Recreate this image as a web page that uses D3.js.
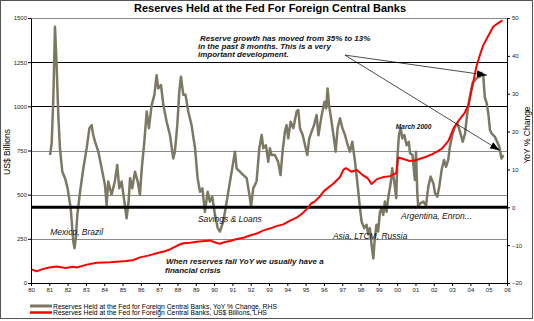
<!DOCTYPE html>
<meta charset="utf-8">
<title>Reserves Held at the Fed For Foreign Central Banks</title>
<body>
<script src="https://cdn.jsdelivr.net/npm/d3@7"></script>
<style>
html, body {
    margin: 0;
    background: #fff;
}

svg {
    display: block;
    font-family: Arial, "Liberation Sans", sans-serif;
}

.axis text {
    font-size: 6px;
    fill: #222;
}

.axis line, .axis path {
    stroke: #000;
}

.note {
    font-style: italic;
    font-size: 8.5px;
    fill: #111;
}
</style>
<script>
// Foreign central bank reserves held at the Fed, US$ billions (left axis)
var reserves = [
    [1980.04, 77], [1980.30, 66], [1980.67, 80], [1981.00, 88], [1981.40, 93],
    [1981.90, 85], [1982.30, 92], [1982.50, 88], [1983.05, 104], [1983.60, 115],
    [1984.30, 118], [1985.20, 125], [1985.60, 130], [1985.95, 145], [1986.40, 155],
    [1986.86, 168], [1987.30, 180], [1987.59, 190], [1988.05, 215], [1988.32, 225],
    [1988.70, 228], [1989.05, 234], [1989.50, 238], [1989.80, 240], [1990.10, 228],
    [1990.32, 222], [1990.60, 232], [1990.87, 238], [1991.20, 248], [1991.60, 256],
    [1992.00, 270], [1992.33, 280], [1992.70, 298], [1993.05, 308], [1993.40, 322],
    [1993.78, 332], [1994.10, 350], [1994.51, 370], [1994.80, 392], [1995.06, 418],
    [1995.30, 450], [1995.51, 462], [1995.78, 490], [1996.00, 520], [1996.24, 540],
    [1996.51, 562], [1996.88, 600], [1997.06, 640], [1997.20, 650], [1997.50, 630],
    [1997.80, 640], [1998.10, 612], [1998.40, 592], [1998.60, 560], [1998.90, 588],
    [1999.20, 598], [1999.60, 605], [1999.95, 622], [2000.05, 710], [2000.30, 703],
    [2000.70, 690], [2001.00, 695], [2001.50, 712], [2001.90, 728], [2002.20, 745],
    [2002.45, 760], [2002.80, 805], [2003.10, 880], [2003.40, 925], [2003.70, 965],
    [2003.90, 1010], [2004.10, 1110], [2004.34, 1230], [2004.52, 1290], [2004.70, 1345],
    [2004.98, 1400], [2005.25, 1450], [2005.50, 1470], [2005.75, 1487]
];

// Year-over-year % change of the same reserves (right axis)
var yoyChange = [
    [1981.04, 13.8], [1981.13, 16.9], [1981.22, 28.8], [1981.31, 47.7], [1981.40, 37.6],
    [1981.49, 24.4], [1981.58, 15.6], [1981.71, 9.4], [1981.86, 7.7], [1982.00, 5.0],
    [1982.17, -0.3], [1982.31, -9.1], [1982.38, -10.8], [1982.45, -8.0], [1982.53, -2.0],
    [1982.68, 4.1], [1982.86, 10.3], [1983.04, 15.6], [1983.19, 20.9], [1983.31, 21.7],
    [1983.40, 19.1], [1983.50, 17.3], [1983.68, 14.7], [1983.86, 10.3], [1984.04, 5.9],
    [1984.13, 0.6], [1984.22, 6.8], [1984.40, 3.3], [1984.58, 6.8], [1984.71, 11.2],
    [1984.82, 5.0], [1984.95, 6.8], [1985.10, 1.5], [1985.22, -2.9], [1985.33, 1.5],
    [1985.41, 7.7], [1985.53, 5.0], [1985.68, 9.4], [1985.83, 6.8], [1985.95, 3.3],
    [1986.05, 10.3], [1986.19, 17.3], [1986.32, 25.3], [1986.44, 20.9], [1986.59, 27.0],
    [1986.74, 29.7], [1986.86, 34.9], [1986.95, 31.4], [1987.10, 32.3], [1987.23, 27.0],
    [1987.41, 22.6], [1987.59, 19.1], [1987.77, 12.9], [1987.86, 14.7], [1987.99, 21.7],
    [1988.10, 30.5], [1988.19, 34.5], [1988.32, 29.7], [1988.44, 29.7], [1988.59, 25.3],
    [1988.77, 21.7], [1988.96, 15.6], [1989.10, 7.7], [1989.23, 4.1], [1989.36, 5.0],
    [1989.50, -1.2], [1989.65, 4.1], [1989.77, 1.5], [1989.90, 2.8], [1990.05, -2.0],
    [1990.20, -5.5], [1990.32, -6.4], [1990.50, -3.8], [1990.69, 1.5], [1990.87, 6.8],
    [1991.05, 12.0], [1991.14, 14.7], [1991.23, 10.3], [1991.41, 9.4], [1991.60, 8.5],
    [1991.78, 7.7], [1991.93, 3.3], [1992.02, 0.2], [1992.14, 5.0], [1992.32, 6.8],
    [1992.47, 15.6], [1992.60, 19.1], [1992.69, 15.6], [1992.83, 16.4], [1992.96, 12.0],
    [1993.05, 15.6], [1993.14, 13.8], [1993.32, 13.8], [1993.50, 12.0], [1993.63, 8.5],
    [1993.74, 14.7], [1993.87, 20.0], [1993.96, 21.7], [1994.05, 18.2], [1994.18, 22.6],
    [1994.33, 20.9], [1994.51, 25.3], [1994.60, 25.7], [1994.69, 20.9], [1994.84, 19.1],
    [1994.97, 16.4], [1995.09, 13.8], [1995.20, 18.2], [1995.33, 20.0], [1995.46, 21.7],
    [1995.60, 24.4], [1995.70, 19.0], [1995.88, 24.4], [1996.03, 27.9], [1996.12, 26.1],
    [1996.20, 31.4], [1996.28, 27.0], [1996.39, 23.5], [1996.52, 19.1], [1996.64, 14.7],
    [1996.75, 20.9], [1996.88, 23.5], [1997.01, 20.9], [1997.15, 19.1], [1997.30, 16.4],
    [1997.42, 14.7], [1997.55, 17.3], [1997.70, 12.0], [1997.84, 5.9], [1997.97, -0.3],
    [1998.06, -3.8], [1998.20, -5.5], [1998.33, -4.6], [1998.42, -7.2], [1998.51, -5.5],
    [1998.60, -9.9], [1998.70, -13.5], [1998.78, -8.1], [1998.87, -4.6], [1998.96, -6.4],
    [1999.06, -1.2], [1999.15, -0.3], [1999.24, -2.0], [1999.33, 1.5], [1999.42, -1.2],
    [1999.51, 2.4], [1999.66, 6.8], [1999.73, 10.3], [1999.84, 6.8], [1999.95, 2.4],
    [2000.02, 13.8], [2000.10, 19.1], [2000.19, 20.9], [2000.28, 18.2], [2000.39, 19.1],
    [2000.52, 16.4], [2000.64, 17.3], [2000.70, 14.3], [2000.84, 13.8], [2000.88, 11.6],
    [2000.97, 7.2], [2001.03, 14.7], [2001.10, 3.7], [2001.15, 0.2], [2001.25, 1.0],
    [2001.43, 1.5], [2001.58, 0.5], [2001.70, 5.4], [2001.83, 8.1], [2001.98, 6.3],
    [2002.07, 3.7], [2002.19, 2.8], [2002.30, 5.4], [2002.43, 9.9], [2002.56, 12.5],
    [2002.67, 10.7], [2002.79, 12.5], [2002.88, 16.0], [2003.03, 19.5], [2003.16, 21.3],
    [2003.28, 22.2], [2003.41, 20.4], [2003.58, 17.3], [2003.71, 19.5], [2003.79, 23.1],
    [2003.88, 26.6], [2004.01, 30.1], [2004.12, 32.8], [2004.34, 34.1], [2004.52, 34.5],
    [2004.61, 35.5], [2004.70, 34.9], [2004.79, 29.0], [2004.89, 27.5], [2004.98, 24.8],
    [2005.07, 20.4], [2005.16, 19.5], [2005.34, 18.6], [2005.46, 17.3], [2005.58, 16.0],
    [2005.70, 12.9], [2005.80, 13.8]
];

var yearTicks = d3.range(1980, 2007),
    usdTicks = [0, 250, 500, 750, 1000, 1250, 1500],
    pctTicks = [-20, -10, 0, 10, 20, 30, 40, 50];

var legendLabels = [
    "Reserves Held at the Fed for Foreign Central Banks, YoY % Change, RHS",
    "Reserves Held at the Fed for Foreign Central Banks, US$ Billions, LHS"
];

var width = 534,
    height = 321,
    plotLeft = 31,
    plotRight = 507,
    plotTop = 18,
    plotBottom = 283,
    grayColor = "#7b7963",
    redColor = "#ff0000";

var x = d3.scaleLinear().domain([1980, 2006]).range([plotLeft, plotRight]),
    yL = d3.scaleLinear().domain([0, 1500]).range([plotBottom, plotTop]),
    yR = d3.scaleLinear().domain([-20, 50]).range([plotBottom, plotTop]);

var svg = d3.select("body").append("svg")
    .attr("width", width)
    .attr("height", height);

// outer frame
svg.append("rect")
    .attr("x", 0.5).attr("y", 0.5)
    .attr("width", width - 2).attr("height", height - 3)
    .attr("fill", "#fff")
    .attr("stroke", "#555");

svg.append("text")
    .attr("x", 270)
    .attr("y", 12)
    .attr("text-anchor", "middle")
    .style("font-size", "11px")
    .style("font-weight", "bold")
    .text("Reserves Held at the Fed For Foreign Central Banks");

// horizontal gridlines from the left axis
svg.append("g").selectAll("line")
    .data(usdTicks.filter(function(d) { return d > 0; }))
    .enter().append("line")
    .attr("x1", plotLeft).attr("x2", plotRight)
    .attr("y1", function(d) { return Math.round(yL(d)) + 0.5; })
    .attr("y2", function(d) { return Math.round(yL(d)) + 0.5; })
    .attr("stroke", function(d) { return d >= 1000 && d < 1500 ? "#000" : "#8a8a8a"; })
    .attr("stroke-width", 1);

var line = d3.line()
    .x(function(d) { return x(d[0]); });

svg.append("path")
    .datum(yoyChange)
    .attr("fill", "none")
    .attr("stroke", grayColor)
    .attr("stroke-width", 2.5)
    .attr("stroke-linejoin", "round")
    .attr("d", line.y(function(d) { return yR(d[1]); }));

// zero line for the YoY series
svg.append("line")
    .attr("x1", plotLeft).attr("x2", plotRight)
    .attr("y1", yR(0)).attr("y2", yR(0))
    .attr("stroke", "#000")
    .attr("stroke-width", 3);

svg.append("path")
    .datum(reserves)
    .attr("fill", "none")
    .attr("stroke", redColor)
    .attr("stroke-width", 2)
    .attr("stroke-linejoin", "round")
    .attr("d", line.y(function(d) { return yL(d[1]); }));

// axes
svg.append("g")
    .attr("class", "axis")
    .attr("transform", "translate(" + plotLeft + ",0)")
    .call(d3.axisLeft(yL).tickValues(usdTicks).tickFormat(d3.format("d"))
        .tickSize(3).tickSizeOuter(0).tickPadding(1));

svg.append("g")
    .attr("class", "axis")
    .attr("transform", "translate(" + plotRight + ",0)")
    .call(d3.axisRight(yR).tickValues(pctTicks).tickSize(3).tickSizeOuter(0).tickPadding(2));

svg.append("g")
    .attr("class", "axis")
    .attr("transform", "translate(0," + plotBottom + ")")
    .call(d3.axisBottom(x).tickValues(yearTicks).tickSize(3).tickSizeOuter(0).tickPadding(2)
        .tickFormat(function(d) { return String(d).slice(2); }));

svg.selectAll(".axis .domain").attr("stroke-width", 1);

svg.append("text")
    .attr("transform", "translate(10,152) rotate(-90)")
    .attr("text-anchor", "middle")
    .style("font-size", "8.5px")
    .text("US$ Billions");

svg.append("text")
    .attr("transform", "translate(530,135) rotate(-90)")
    .attr("text-anchor", "middle")
    .style("font-size", "8.5px")
    .text("YoY % Change");

// annotations
function note(year, pct, txt, bold, size) {
    svg.append("text")
        .attr("class", "note")
        .attr("x", x(year))
        .attr("y", yR(pct))
        .style("font-weight", bold ? "bold" : "normal")
        .style("font-size", (size || 8.5) + "px")
        .text(txt);
}

note(1981.05, -7.3, "Mexico, Brazil");
note(1989.12, -3.9, "Savings & Loans");
note(1996.49, -8.4, "Asia, LTCM, Russia");
note(2000.21, -3.1, "Argentina, Enron...");
note(1987.37, -15.0, "When reserves fall YoY we usually have a", true, 8);
note(1987.32, -17.4, "financial crisis", true, 8);
note(1999.93, 20.8, "March 2000", true, 6.5);
note(1989.23, 43.8, "Reserve growth has moved from 35% to 13%", true, 8);
note(1989.12, 41.7, "in the past 8 months. This is a very", true, 8);
note(1989.12, 39.6, "important development.", true, 8);

svg.append("defs").append("marker")
    .attr("id", "head")
    .attr("markerUnits", "userSpaceOnUse")
    .attr("viewBox", "0 -4 10 8")
    .attr("refX", 10)
    .attr("refY", 0)
    .attr("markerWidth", 10)
    .attr("markerHeight", 8)
    .attr("orient", "auto")
    .append("path")
    .attr("d", "M0,-3.5L10,0L0,3.5Z")
    .attr("fill", "#000");

var arrowFrom = [1997.15, 40.2],
    arrowTo = [[2004.9, 34.9], [2005.61, 15.0]];

svg.append("g").selectAll("line")
    .data(arrowTo)
    .enter().append("line")
    .attr("x1", x(arrowFrom[0])).attr("y1", yR(arrowFrom[1]))
    .attr("x2", function(d) { return x(d[0]); })
    .attr("y2", function(d) { return yR(d[1]); })
    .attr("stroke", "#000")
    .attr("stroke-width", 0.7)
    .attr("marker-end", "url(#head)");

// legend
var legend = svg.append("g").selectAll("g")
    .data(legendLabels)
    .enter().append("g")
    .attr("transform", function(d, i) { return "translate(30," + (306 + i * 6.5) + ")"; });

legend.append("line")
    .attr("x1", 0).attr("x2", 22)
    .attr("stroke", function(d, i) { return i ? redColor : grayColor; })
    .attr("stroke-width", function(d, i) { return i ? 2.5 : 3; });

legend.append("text")
    .attr("x", 23)
    .attr("y", 2.5)
    .style("font-size", "6.8px")
    .text(function(d) { return d; });
</script>
